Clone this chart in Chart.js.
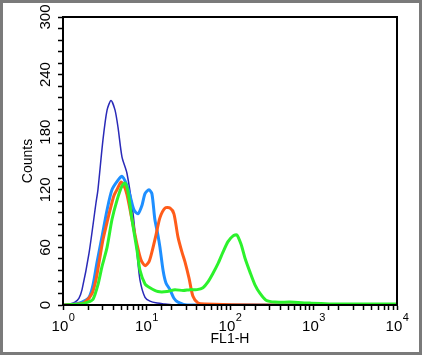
<!DOCTYPE html>
<html>
<head>
<meta charset="utf-8">
<script src="https://cdn.jsdelivr.net/npm/chart.js@4"></script>
<style>
  html, body { margin: 0; padding: 0; background: #fff; }
  #wrap { width: 425px; height: 356px; position: relative; }
</style>
</head>
<body>
<div id="wrap"><canvas id="chart-hist" width="425" height="356"></canvas></div>
<script>
// FL1-H の値（横軸、対数）とカウント
const navyX = [1, 1.21, 1.39, 1.55, 1.69, 2.05, 2.48, 2.62, 3.01, 3.37, 3.76, 4.2, 4.56, 5.09, 5.84, 6.89, 7.7, 8.36, 9.6, 11, 13.4, 16.7, 21.9, 10000];
const navyY = [0, 1, 3, 7, 16, 54, 106, 120, 172, 203, 213, 203, 185, 154, 137, 96, 54, 26, 8, 4, 2, 1, 0, 0];

const skyX = [1, 1.39, 1.69, 2.05, 2.29, 2.55, 2.93, 3.37, 3.86, 4.56, 5.09, 5.68, 6.35, 7.08, 7.91, 8.84, 9.6, 10.7, 11.6, 12.6, 13.7, 14.5, 15.8, 17.1, 19.1, 21.3, 23.8, 30.5, 10000];
const skyY = [0, 1, 3, 8, 21, 44, 71, 99, 120, 130, 134, 127, 114, 99, 95, 104, 116, 120, 116, 89, 73, 60, 36, 23, 16, 7, 3, 0, 0];

const orangeX = [1, 1.51, 1.83, 2.23, 2.48, 2.7, 3.01, 3.37, 3.66, 4.08, 4.43, 4.95, 5.38, 5.84, 6.7, 7.7, 8.59, 9.6, 10.7, 11.6, 13, 14.5, 16.7, 19.1, 21.3, 23.8, 26.6, 28.9, 32.3, 36, 41.4, 50.2, 229, 10000];
const orangeY = [0, 1, 3, 12, 26, 44, 68, 86, 99, 114, 120, 128, 124, 115, 89, 63, 47, 41, 45, 55, 73, 91, 101, 101, 95, 71, 55, 45, 28, 9, 2, 1, 0, 0];

const greenX = [1, 1.6, 1.99, 2.29, 2.62, 2.93, 3.37, 3.86, 4.43, 5.09, 5.53, 6, 6.7, 7.7, 8.36, 9.6, 11, 13.7, 17.6, 21.9, 27.4, 33.2, 40.3, 47.5, 54.5, 62.6, 71.8, 82.4, 94.6, 109, 121, 136, 151, 174, 199, 229, 270, 346, 524, 908, 2075, 10000];
const greenY = [0, 1, 3, 6, 21, 40, 60, 89, 109, 124, 127, 118, 89, 57, 36, 22, 18, 14, 14, 16, 15, 16, 16, 18, 24, 33, 43, 55, 66, 72, 73, 63, 49, 34, 21, 12, 5, 3, 3, 2, 1, 1];

const yTickLabels = [0, 60, 120, 180, 240, 300];
const xTickValues = [1, 10, 100, 1000, 10000];
const xTickExps = ["0", "1", "2", "3", "4"];

function toPoints(xs, ys) {
  return xs.map((x, i) => ({ x: x, y: ys[i] }));
}

const family = "'Liberation Sans', Arial, sans-serif";

// x軸の 10^n ラベル（上付き）を描く
const decadeLabels = {
  id: "decadeLabels",
  afterDraw(chart) {
    const c = chart.ctx;
    const sx = chart.scales.x;
    c.save();
    c.fillStyle = "#000";
    c.textBaseline = "alphabetic";
    c.textAlign = "left";
    xTickValues.forEach((v, i) => {
      const px = sx.getPixelForValue(v);
      c.font = "15px " + family;
      const w1 = c.measureText("10").width;
      c.font = "11px " + family;
      const w2 = c.measureText(xTickExps[i]).width;
      const start = px - (w1 + w2) / 2;
      c.font = "15px " + family;
      c.fillText("10", start, 331);
      c.font = "11px " + family;
      c.fillText(xTickExps[i], start + w1 + 0.5, 321);
    });
    c.restore();
  },
};

// 外枠とプロット枠を描く
const framePlugin = {
  id: "frame",
  afterDraw(chart) {
    const c = chart.ctx;
    const a = chart.chartArea;
    c.save();
    c.strokeStyle = "#000";
    c.lineWidth = 2;
    c.strokeRect(a.left, a.top, a.right - a.left, a.bottom - a.top);
    c.strokeStyle = "#7a7a7a";
    c.lineWidth = 3;
    c.strokeRect(1.5, 1.5, 419, 352);
    c.restore();
  },
};

const ctx = document.getElementById("chart-hist");
const font = { family: family, size: 15 };

new Chart(ctx, {
  type: "line",
  data: {
    datasets: [
      { data: toPoints(navyX, navyY), borderColor: "#2a2ab8", borderWidth: 1.5, order: 4 },
      { data: toPoints(skyX, skyY), borderColor: "#1e8fff", borderWidth: 3, order: 3 },
      { data: toPoints(orangeX, orangeY), borderColor: "#ff5c1a", borderWidth: 3, order: 2 },
      { data: toPoints(greenX, greenY), borderColor: "#2cf22c", borderWidth: 3, order: 1 },
    ],
  },
  options: {
    responsive: false,
    animation: false,
    layout: { padding: { top: 17, right: 28, left: 0, bottom: 0 } },
    elements: { point: { radius: 0 }, line: { tension: 0.25 } },
    plugins: { legend: { display: false }, tooltip: { enabled: false } },
    scales: {
      x: {
        type: "logarithmic",
        min: 1,
        max: 10000,
        afterFit: (s) => { s.height = 51; },
        grid: { drawOnChartArea: false, tickLength: 5, tickColor: "#000", tickWidth: 1.5 },
        border: { color: "#000", width: 2 },
        ticks: {
          autoSkip: false,
          maxRotation: 0,
          color: "#000",
          font: font,
          callback: () => "",
        },
        title: { display: true, text: "FL1-H", color: "#000", font: { family: family, size: 14 }, padding: { top: 0, bottom: 8 } },
      },
      y: {
        min: 0,
        max: 300,
        afterFit: (s) => { s.width = 63; },
        grid: { drawOnChartArea: false, tickLength: 5, tickColor: "#000", tickWidth: 1.5 },
        border: { color: "#000", width: 2 },
        ticks: {
          stepSize: 12,
          autoSkip: false,
          minRotation: 90,
          maxRotation: 90,
          crossAlign: "center",
          padding: 0,
          color: "#000",
          font: font,
          callback: (v) => (yTickLabels.includes(v) ? String(v) : ""),
        },
        title: { display: true, text: "Counts", color: "#000", font: { family: family, size: 14 }, padding: { top: 20, bottom: 0 } },
      },
    },
  },
  plugins: [framePlugin, decadeLabels],
});
</script>
</body>
</html>
